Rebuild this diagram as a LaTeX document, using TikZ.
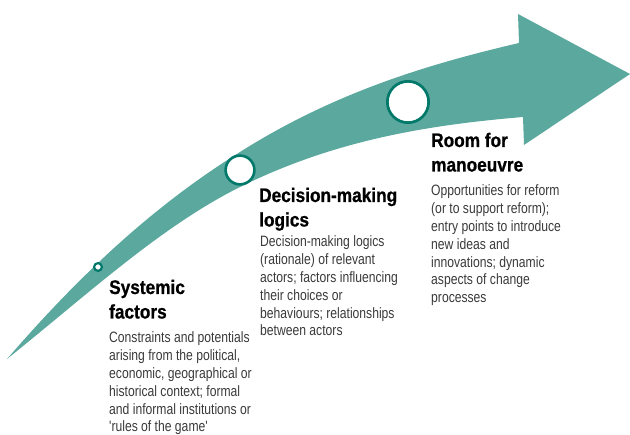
\documentclass[tikz,border=0pt]{standalone}
\usepackage{fontspec}
\setmainfont{Liberation Sans}[FakeStretch=0.87]
\newfontfamily\bodyfont{Liberation Sans}[FakeStretch=0.81, Ligatures=TeXOff]
\newfontfamily\titlefont{Liberation Sans}[FakeStretch=0.88, BoldFeatures={FakeBold=0.8}]
\definecolor{arrowteal}{HTML}{5BA89E}
\definecolor{ringteal}{HTML}{00796A}
\definecolor{bodygray}{HTML}{3A3A3A}
\tikzset{
  titletext/.style={anchor=base west, inner sep=0pt, text=black,
    font=\titlefont\fontsize{19.6}{24.5}\selectfont\bfseries},
  bodytext/.style={anchor=base west, inner sep=0pt, text=bodygray,
    font=\bodyfont\fontsize{15}{17.8}\selectfont},
  ring/.style={circle, draw=ringteal, fill=white, inner sep=0pt},
}
\begin{document}
\begin{tikzpicture}[x=1pt,y=-1pt]
\useasboundingbox (0,0) rectangle (630,435);
% big curved arrow
\fill[arrowteal]
  (7,359) .. controls (90,263) and (163,200) .. (240,152)
          .. controls (335,92) and (429,64) .. (519,43)
  -- (518,14) -- (630,74) -- (524,145) -- (523,117)
          .. controls (428,125) and (335,140) .. (240,187)
          .. controls (160,227) and (87,295) .. (7,359)
  -- cycle;
% circles on the arrow
\node[ring, line width=2.2pt, minimum size=7.8pt] (c1) at (98,267) {};
\node[ring, line width=2.6pt, minimum size=28.8pt] (c2) at (240,170) {};
\node[ring, line width=2.7pt, minimum size=41.3pt] (c3) at (408,102) {};
% texts
\node[titletext] (t1) at (109,294) {\parbox[t]{200pt}{\raggedright Systemic\\factors}};
\node[bodytext] (b1) at (109,343) {\parbox[t]{200pt}{\raggedright Constraints and potentials\\arising from the political,\\economic, geographical or\\historical context; formal\\and informal institutions or\\'rules of the game'}};
\node[titletext] (t2) at (259,202) {\parbox[t]{200pt}{\raggedright Decision-making\\logics}};
\node[bodytext] (b2) at (260,247) {\parbox[t]{200pt}{\raggedright Decision-making logics\\(rationale) of relevant\\actors; factors influencing\\their choices or\\behaviours; relationships\\between actors}};
\node[titletext] (t3) at (431,147) {\parbox[t]{190pt}{\raggedright Room for\\manoeuvre}};
\node[bodytext] (b3) at (431,196) {\parbox[t]{190pt}{\raggedright Opportunities for reform\\(or to support reform);\\entry points to introduce\\new ideas and\\innovations; dynamic\\aspects of change\\processes}};
\end{tikzpicture}
\end{document}
